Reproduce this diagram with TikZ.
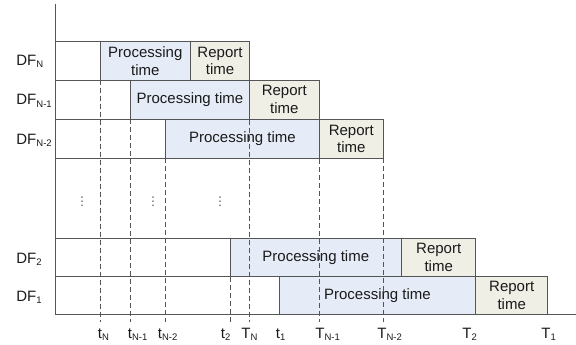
\documentclass[tikz,border=0pt]{standalone}
\usepackage{fontspec}
\setmainfont{Liberation Sans}
\newfontfamily\symfont{DejaVu Sans}
\usepackage{tikz}

\definecolor{linegray}{HTML}{555555}
\definecolor{procblue}{HTML}{E6ECF7}
\definecolor{repgray}{HTML}{EFEFE6}
\definecolor{textgray}{HTML}{1A1A1A}

% lowered small index, as in DF_N or t_N
\newcommand\subidx[1]{\raisebox{-2pt}{\fontsize{9.5}{9.5}\selectfont #1}}

\begin{document}
\begin{tikzpicture}[x=1pt,y=-1pt,line width=0.8pt,
    grid/.style={draw=linegray},
    proc/.style={draw=linegray,fill=procblue},
    rep/.style={draw=linegray,fill=repgray},
    guide/.style={draw=linegray,line width=0.6pt,dash pattern=on 5pt off 3pt},
    lbl/.style={text=textgray,inner sep=0pt,align=center,
                font=\fontsize{15}{17.5}\selectfont},
    skip/.style={text=linegray,inner sep=0pt,font=\symfont\fontsize{12}{12}\selectfont}]
    \useasboundingbox (0,0) rectangle (576,345);

    % processing and report blocks of each frame
    \path[proc] (100,41.7) rectangle (190.7,80);
    \path[rep] (190.7,41.7) rectangle (249.3,80);
    \path[proc] (130.7,80) rectangle (249.3,119.3);
    \path[rep] (249.3,80) rectangle (319.3,119.3);
    \path[proc] (165.7,119.3) rectangle (319.3,158.3);
    \path[rep] (319.3,119.3) rectangle (383.3,158.3);
    \path[proc] (230,238.3) rectangle (401.7,276.7);
    \path[rep] (401.7,238.3) rectangle (475.7,276.7);
    \path[proc] (279.3,276.7) rectangle (475.7,314.3);
    \path[rep] (475.7,276.7) rectangle (547.7,314.3);

    % axes and row borders
    \draw[grid] (55,4) -- (55,314.3) -- (576,314.3);
    \draw[grid] (55,41.7) -- (249.3,41.7);
    \draw[grid] (55,80) -- (319.3,80);
    \draw[grid] (55,119.3) -- (383.3,119.3);
    \draw[grid] (55,158.3) -- (383.3,158.3);
    \draw[grid] (55,238.3) -- (475.7,238.3);
    \draw[grid] (55,276.7) -- (547.7,276.7);

    % time marks
    \draw[guide] (100,80) -- (100,322);
    \draw[guide] (130.7,119.3) -- (130.7,322);
    \draw[guide] (165.7,158.3) -- (165.7,322);
    \draw[guide] (230,276.7) -- (230,322);
    \draw[guide] (249.3,80) -- (249.3,322);
    \draw[guide] (319.3,119.3) -- (319.3,322);
    \draw[guide] (383.3,158.3) -- (383.3,322);

    % block texts
    \node[lbl] (pN) at (145.3,60.9) {Processing\\time};
    \node[lbl] (rN) at (220,60.9) {Report\\time};
    \node[lbl] (pN1) at (190,99.6) {Processing time};
    \node[lbl] (rN1) at (284.3,99.6) {Report\\time};
    \node[lbl] (pN2) at (242.5,138.8) {Processing time};
    \node[lbl] (rN2) at (351.3,138.8) {Report\\time};
    \node[lbl] (p2) at (315.8,257.5) {Processing time};
    \node[lbl] (r2) at (438.7,257.5) {Report\\time};
    \node[lbl] (p1) at (377.5,295.5) {Processing time};
    \node[lbl] (r1) at (511.7,295.5) {Report\\time};

    % frame names
    \node[lbl,anchor=base west] (dfN) at (16,66) {DF\subidx{N}};
    \node[lbl,anchor=base west] (dfN1) at (16,105) {DF\subidx{N-1}};
    \node[lbl,anchor=base west] (dfN2) at (16,144) {DF\subidx{N-2}};
    \node[lbl,anchor=base west] (df2) at (16,263) {DF\subidx{2}};
    \node[lbl,anchor=base west] (df1) at (16,301.5) {DF\subidx{1}};

    % skipped frames
    \node[skip] (dotsA) at (82,202) {⋮};
    \node[skip] (dotsB) at (153,202) {⋮};
    \node[skip] (dotsC) at (220,202) {⋮};

    % instants on the time axis
    \node[lbl,anchor=base] (tN) at (100,338) {t\rlap{\subidx{N}}};
    \node[lbl,anchor=base] (tN1) at (130,338) {t\rlap{\subidx{N-1}}};
    \node[lbl,anchor=base] (tN2) at (160,338) {t\rlap{\subidx{N-2}}};
    \node[lbl,anchor=base] (t2) at (223,338) {t\rlap{\subidx{2}}};
    \node[lbl,anchor=base] (TN) at (246,338) {T\rlap{\subidx{N}}};
    \node[lbl,anchor=base] (t1) at (278,338) {t\rlap{\subidx{1}}};
    \node[lbl,anchor=base] (TN1) at (320,338) {T\rlap{\subidx{N-1}}};
    \node[lbl,anchor=base] (TN2) at (382,338) {T\rlap{\subidx{N-2}}};
    \node[lbl,anchor=base] (T2) at (467,338) {T\rlap{\subidx{2}}};
    \node[lbl,anchor=base] (T1) at (546,338) {T\rlap{\subidx{1}}};
\end{tikzpicture}
\end{document}
